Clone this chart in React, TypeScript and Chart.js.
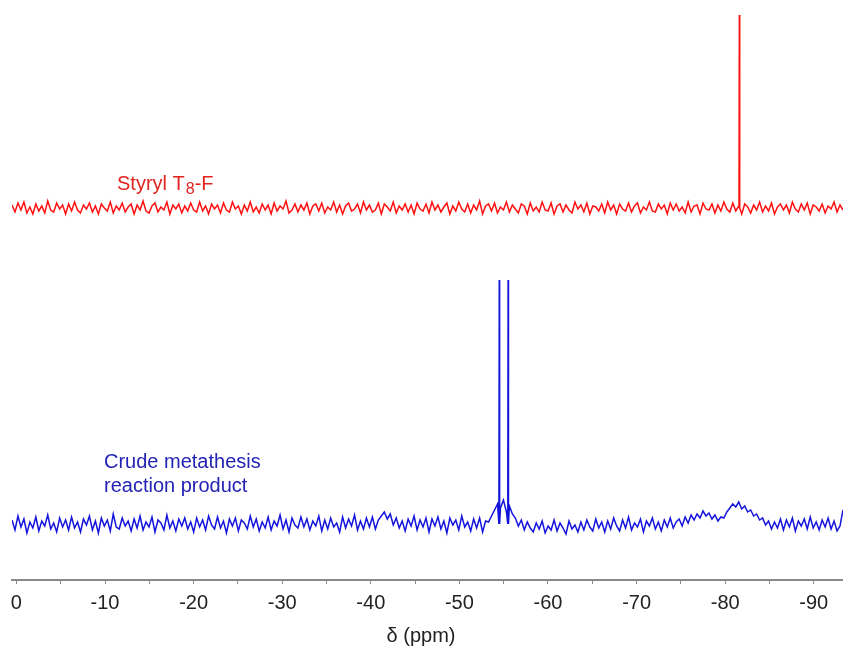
import { useEffect, useRef } from "react";
import { Chart, registerables } from "chart.js";

Chart.register(...registerables);

// Chemical-shift window (ppm), sampled on an even grid for the baseline noise
const ppmStart = 0.5;
const ppmEnd = -93.3;

// Tick positions (ppm); labels only on multiples of 10
const tickValues = [0, -5, -10, -15, -20, -25, -30, -35, -40, -45, -50, -55, -60, -65, -70, -75, -80, -85, -90];

// Styryl T8-F: baseline noise (a.u.) across the window
const redNoise = [
  3, -4, 5, -2, 6, -5, 1, -6, 4, -3, 2, -5, 7, -2, -4, 5, -1, 3, -6, 4,
  -3, 6, -2, -5, 3, -1, 5, -4, 2, -6, 4, 0, -3, 6, -5, 2, -2, 5, -4, 1,
  4, -6, 3, -2, 7, -3, -5, 2, 5, -4, 1, -2, 6, -6, 3, -1, 4, -5, 2, -3,
  5, -2, -4, 6, -3, 2, -6, 4, -1, 3, -5, 5, -2, -4, 6, -1, 2, -6, 3, -3,
  6, -4, 1, -5, 4, -2, 3, -6, 5, -3, 2, -1, 7, -5, -2, 4, -4, 3, -2, 5,
  -6, 2, 4, -3, 5, -5, 1, -2, 6, -4, 3, -6, 2, 5, -3, -1, 4, -5, 6, -2,
  3, -4, -2, 5, -6, 4, 1, -3, 6, -5, 2, -2, 4, -4, 3, -6, 5, -1, -3, 4,
  -5, 6, -2, 3, -4, 1, 5, -6, 2, -3, 6, -1, -4, 4, -5, 3, -2, 7, -6, 2,
  4, -3, 5, -5, 1, -2, 6, -4, 3, -1, -5, 4, 2, -6, 5, -3, 1, -4, 6, -2,
  -3, 5, -6, 2, 4, -4, 3, -2, -5, 6, -1, 3, -4, 5, -6, 2, 1, -3, 4, -5,
  6, -2, 3, -6, 4, -1, -3, 5, -4, 2, 5, -5, 1, -2, 6, -3, -4, 4, -1, 3,
  -6, 5, -2, 4, -3, 1, -5, 6, -4, 2, 3, -6, 5, -1, -2, 4, -5, 3, -3, 6,
  -1, -4, 5, -3, 2, -6, 4, 1, -5, 3, -2, 6, -4, 2, -3, 5, -6, 1, 4, -2,
  3, -5, 6, -1, -4, 4, -2, 5, -6, 3, 1, -3, 4, -5, 2, -1, 6, -4, 3, -2,
];

// Styryl T8-F: sharp resonance [ppm, intensity]
const redPeaks = [[-81.6, 193]];

// Crude metathesis product: baseline, shoulders and broad hump (a.u.)
const blueNoise = [
  4, -6, 8, -3, 5, -9, 2, -4, 7, -7, 3, -2, 9, -5, 1, -8, 6, -3, 4, -6,
  7, -4, 2, -8, 5, -1, 8, -6, 3, -9, 6, -2, 4, -7, 10, -3, -5, 6, -2, 3,
  -7, 5, -4, 8, -6, 2, -3, 7, -8, 4, 1, -6, 9, -4, 3, -7, 5, -2, 6, -5,
  2, -8, 6, -3, 4, -6, 8, -1, -5, 7, -4, 3, -9, 5, -2, 6, -7, 4, 1, -5,
  8, -3, 5, -7, 2, -4, 7, -6, 3, -2, 9, -5, 4, -8, 6, -1, -4, 7, -3, 5,
  -6, 3, -2, 8, -7, 4, -5, 6, -3, 1, -8, 7, -4, 5, -2, 9, -6, 3, -5, 6,
  -3, 7, -5, 4, 8, 12, 5, 10, -1, 6, -4, 3, -7, 5, -2, 8, -6, 4, -3, 6,
  -8, 5, -2, 7, -5, 3, -9, 6, -1, 4, -6, 8, -3, 2, -7, 5, -4, 6, -8, 3,
  2, 8, 14, 20, 16, 24, 12, 18, 10, 6, -2, 4, -6, 2, -4, -8, 1, -5, 3, -9,
  -2, -6, 4, -7, 1, -4, -10, 3, -5, -1, -8, 2, -6, 4, -3, -7, 5, -4, 2, -8,
  3, -5, 6, -2, -7, 4, -4, 7, -6, 1, -3, 5, -8, 3, -2, 6, -5, 2, -7, 4,
  -3, 6, -4, 2, 5, -2, 7, 1, 9, 4, 10, 6, 13, 8, 11, 5, 9, 3, 7, 6,
  12, 16, 20, 17, 22, 15, 18, 12, 14, 8, 10, 4, 6, -1, 3, -5, 2, -4, 5, -6,
  4, -3, 6, -7, 3, -2, 5, -5, 7, -4, 2, -6, 4, -3, 6, -5, 3, -7, -2, 14,
];

// Crude metathesis product: sharp resonances [ppm, intensity]
const bluePeaks = [
  [-54.5, 244],
  [-55.5, 244],
];

// Vertical stacking offsets of the two spectra
const redOffset = 372;
const blueOffset = 56;

function buildTrace(noise: number[], peaks: number[][], offset: number) {
  const step = (ppmStart - ppmEnd) / (noise.length - 1);
  const pts: { x: number; y: number }[] = noise.map((v, i) => ({
    x: ppmStart - i * step,
    y: offset + v,
  }));
  for (const [ppm, h] of peaks) {
    pts.push({ x: ppm + 0.04, y: offset });
    pts.push({ x: ppm, y: offset + h });
    pts.push({ x: ppm - 0.04, y: offset });
  }
  pts.sort((a, b) => b.x - a.x);
  return pts;
}

const FONT = "Arial, 'Liberation Sans', sans-serif";

const labelsPlugin = {
  id: "spectrumLabels",
  afterDraw(chart: any) {
    const { ctx } = chart;
    ctx.save();
    ctx.textAlign = "left";
    ctx.textBaseline = "alphabetic";

    // Styryl T8-F
    ctx.fillStyle = "#e3231f";
    ctx.font = `20px ${FONT}`;
    let x = 117;
    const base = 190;
    ctx.fillText("Styryl T", x, base);
    x += ctx.measureText("Styryl T").width + 1;
    ctx.font = `16px ${FONT}`;
    ctx.fillText("8", x, base + 4);
    x += ctx.measureText("8").width;
    ctx.font = `20px ${FONT}`;
    ctx.fillText("-F", x, base);

    // Crude metathesis reaction product
    ctx.fillStyle = "#2323b5";
    ctx.fillText("Crude metathesis", 104, 468);
    ctx.fillText("reaction product", 104, 492);

    // Axis title
    ctx.fillStyle = "#222222";
    ctx.textAlign = "center";
    ctx.fillText("\u03b4 (ppm)", 421, 642);
    ctx.restore();
  },
};

export default function App() {
  const canvasRef = useRef<HTMLCanvasElement | null>(null);

  useEffect(() => {
    if (!canvasRef.current) return;
    const chart = new Chart(canvasRef.current, {
      type: "line",
      data: {
        datasets: [
          {
            label: "Styryl T8-F",
            data: buildTrace(redNoise, redPeaks, redOffset),
            borderColor: "#ff1010",
            borderWidth: 1.5,
            pointRadius: 0,
            tension: 0,
          },
          {
            label: "Crude metathesis reaction product",
            data: buildTrace(blueNoise, bluePeaks, blueOffset),
            borderColor: "#1414dc",
            borderWidth: 1.5,
            pointRadius: 0,
            tension: 0,
          },
        ],
      },
      options: {
        responsive: false,
        animation: false,
        devicePixelRatio: 1,
        layout: { padding: { left: 12, right: 0, top: 0, bottom: 26 } },
        plugins: {
          legend: { display: false },
          tooltip: { enabled: false },
        },
        scales: {
          x: {
            type: "linear",
            reverse: true,
            min: ppmEnd,
            max: ppmStart,
            afterBuildTicks: (scale: any) => {
              scale.ticks = tickValues.map((v) => ({ value: v }));
            },
            grid: {
              display: true,
              drawOnChartArea: false,
              drawTicks: true,
              tickLength: 4,
              color: "#8a8a8a",
              lineWidth: 1,
            },
            border: { display: true, color: "#8a8a8a", width: 2 },
            ticks: {
              padding: 7,
              color: "#222222",
              font: { family: FONT, size: 20 },
              maxRotation: 0,
              autoSkip: false,
              callback: (v: any) => (Number(v) % 10 === 0 ? String(Math.abs(Number(v)) === 0 ? 0 : v) : ""),
            },
          },
          y: {
            display: false,
            min: 0,
            max: 580,
          },
        },
      },
      plugins: [labelsPlugin],
    });
    return () => chart.destroy();
  }, []);

  return (
    <div style={{ position: "fixed", left: 0, top: 0, width: 843, height: 648, background: "#fff" }}>
      <canvas ref={canvasRef} width={843} height={648} />
    </div>
  );
}
